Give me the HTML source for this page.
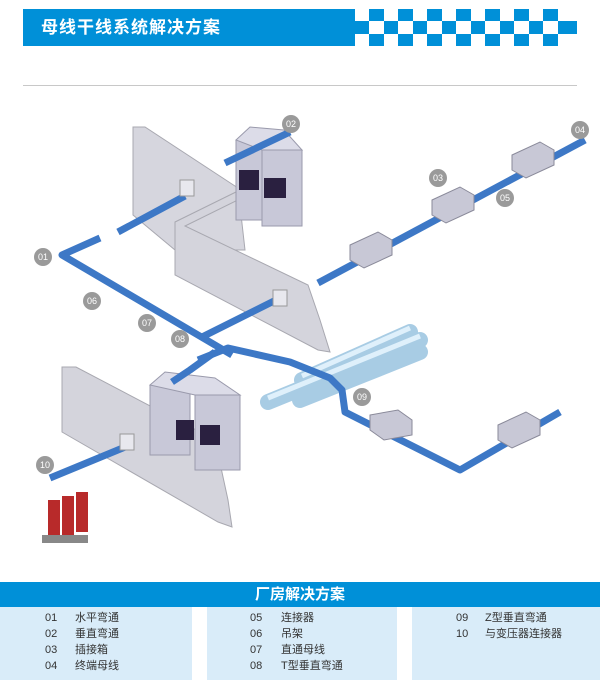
<!DOCTYPE html>
<html><head><meta charset="utf-8"><style>
body{margin:0;width:600px;height:680px;background:#fff;position:relative;overflow:hidden;font-family:"Liberation Sans","Noto Sans CJK SC",sans-serif}
.hdr{position:absolute;left:23px;top:9px;width:332px;height:37px;background:#0090d8;color:#fff;font-weight:bold;font-size:17px;line-height:37px;text-indent:18px;letter-spacing:1px}
.chk{position:absolute;left:355px;top:9px}
.rule{position:absolute;left:23px;top:85px;width:554px;height:1px;background:#c8c8c8}
.bar{position:absolute;left:0;top:582px;width:600px;height:25px;background:#0090d8;color:#fff;font-weight:bold;font-size:15px;line-height:25px;text-align:center}
.pn{position:absolute;top:607px;height:73px;background:#d9ecf9;font-size:11px;color:#333;padding-top:3px;box-sizing:border-box}
.pn div{height:16px;line-height:16px}
.pn span{display:inline-block}
</style></head><body>
<div class="hdr">母线干线系统解决方案</div>
<svg class="chk" width="222" height="37">
<rect x="0" y="12" width="222" height="13" fill="#0090d8"/>
<g fill="#0090d8">
<rect x="14" y="0" width="15" height="12"/><rect x="43" y="0" width="15" height="12"/><rect x="72" y="0" width="15" height="12"/><rect x="101" y="0" width="15" height="12"/><rect x="130" y="0" width="15" height="12"/><rect x="159" y="0" width="15" height="12"/><rect x="188" y="0" width="15" height="12"/>
<rect x="14" y="25" width="15" height="12"/><rect x="43" y="25" width="15" height="12"/><rect x="72" y="25" width="15" height="12"/><rect x="101" y="25" width="15" height="12"/><rect x="130" y="25" width="15" height="12"/><rect x="159" y="25" width="15" height="12"/><rect x="188" y="25" width="15" height="12"/>
</g>
<g fill="#fff">
<rect x="14" y="12" width="15" height="13"/><rect x="43" y="12" width="15" height="13"/><rect x="72" y="12" width="15" height="13"/><rect x="101" y="12" width="15" height="13"/><rect x="130" y="12" width="15" height="13"/><rect x="159" y="12" width="15" height="13"/><rect x="188" y="12" width="15" height="13"/>
</g>
</svg>
<div class="rule"></div>

<svg style="position:absolute;left:0;top:0" width="600" height="580">
<polygon points="133,127 145,127 238,188 245,250 175,250 133,215" fill="#d6d6de" stroke="#a8a8b0"/>
<polygon points="175,222 240,190 248,195 185,226 308,285 320,320 330,352 318,350 175,275" fill="#d4d4dc" stroke="#a8a8b0"/>
<polygon points="62,367 76,367 215,440 228,500 232,527 218,522 62,432" fill="#d4d4dc" stroke="#a8a8b0"/>
<g stroke="#9a9aac" fill="#c8c8d8">
<rect x="236" y="140" width="30" height="80"/><rect x="262" y="150" width="40" height="76"/>
<polygon points="236,140 250,127 284,130 302,150 262,150" fill="#dcdce8"/>
<rect x="150" y="385" width="40" height="70"/><rect x="195" y="395" width="45" height="75"/>
<polygon points="150,385 165,372 215,378 240,395 195,395" fill="#dcdce8"/>
</g>
<rect x="239" y="170" width="20" height="20" fill="#2a2040"/><rect x="264" y="178" width="22" height="20" fill="#2a2040"/>
<rect x="176" y="420" width="18" height="20" fill="#2a2040"/><rect x="200" y="425" width="20" height="20" fill="#2a2040"/>
<g stroke="#a8cce4" stroke-width="16" stroke-linecap="round" fill="none">
<line x1="268" y1="402" x2="420" y2="340"/><line x1="300" y1="400" x2="420" y2="352"/><line x1="302" y1="380" x2="410" y2="332"/>
</g>
<g stroke="#dff0fb" stroke-width="5" fill="none">
<line x1="268" y1="398" x2="420" y2="336"/><line x1="302" y1="376" x2="410" y2="328"/>
</g>
<g stroke="#3d78c6" stroke-width="7" fill="none" stroke-linejoin="round">
<polyline points="100,238 62,255 215,345 232,355"/>
<polyline points="200,338 280,298"/>
<polyline points="318,283 585,140"/>
<polyline points="118,232 185,196"/>
<polyline points="225,163 290,132"/>
<polyline points="198,360 228,348 290,362 330,378 342,390 345,412 460,470 560,412"/>
<polyline points="130,445 50,478"/>
<polyline points="215,352 190,370 172,382"/>
</g>
<g fill="#c8c8d6" stroke="#8a8a9a">
<polygon points="350,245 378,232 392,240 392,255 364,268 350,260"/>
<polygon points="432,200 460,187 474,195 474,210 446,223 432,215"/>
<polygon points="512,155 540,142 554,150 554,165 526,178 512,170"/>
<polygon points="370,415 398,410 412,420 412,435 384,440 370,430"/>
<polygon points="498,425 526,412 540,420 540,435 512,448 498,440"/>
</g>
<rect x="180" y="180" width="14" height="16" fill="#e8e8ee" stroke="#999"/>
<rect x="273" y="290" width="14" height="16" fill="#e8e8ee" stroke="#999"/>
<rect x="120" y="434" width="14" height="16" fill="#e8e8ee" stroke="#999"/>
<g fill="#b82a2a"><rect x="48" y="500" width="12" height="40"/><rect x="62" y="496" width="12" height="40"/><rect x="76" y="492" width="12" height="40"/></g>
<rect x="42" y="535" width="46" height="8" fill="#888"/>
<g fill="#9a9a9a"><circle cx="43" cy="257" r="9"/><circle cx="291" cy="124" r="9"/><circle cx="438" cy="178" r="9"/><circle cx="580" cy="130" r="9"/><circle cx="505" cy="198" r="9"/><circle cx="92" cy="301" r="9"/><circle cx="147" cy="323" r="9"/><circle cx="180" cy="339" r="9"/><circle cx="362" cy="397" r="9"/><circle cx="45" cy="465" r="9"/></g>
<g fill="#fff" font-size="9" text-anchor="middle" font-family="Liberation Sans,sans-serif">
<text x="43" y="260">01</text><text x="291" y="127">02</text><text x="438" y="181">03</text><text x="580" y="133">04</text><text x="505" y="201">05</text><text x="92" y="304">06</text><text x="147" y="326">07</text><text x="180" y="342">08</text><text x="362" y="400">09</text><text x="45" y="468">10</text>
</g>
</svg>

<div class="bar">厂房解决方案</div>
<div class="pn" style="left:0;width:192px;padding-left:45px"><div><span style="width:30px">01</span>水平弯通</div><div><span style="width:30px">02</span>垂直弯通</div><div><span style="width:30px">03</span>插接箱</div><div><span style="width:30px">04</span>终端母线</div></div>
<div class="pn" style="left:207px;width:190px;padding-left:43px"><div><span style="width:31px">05</span>连接器</div><div><span style="width:31px">06</span>吊架</div><div><span style="width:31px">07</span>直通母线</div><div><span style="width:31px">08</span>T型垂直弯通</div></div>
<div class="pn" style="left:412px;width:188px;padding-left:44px"><div><span style="width:29px">09</span>Z型垂直弯通</div><div><span style="width:29px">10</span>与变压器连接器</div></div>
</body></html>
